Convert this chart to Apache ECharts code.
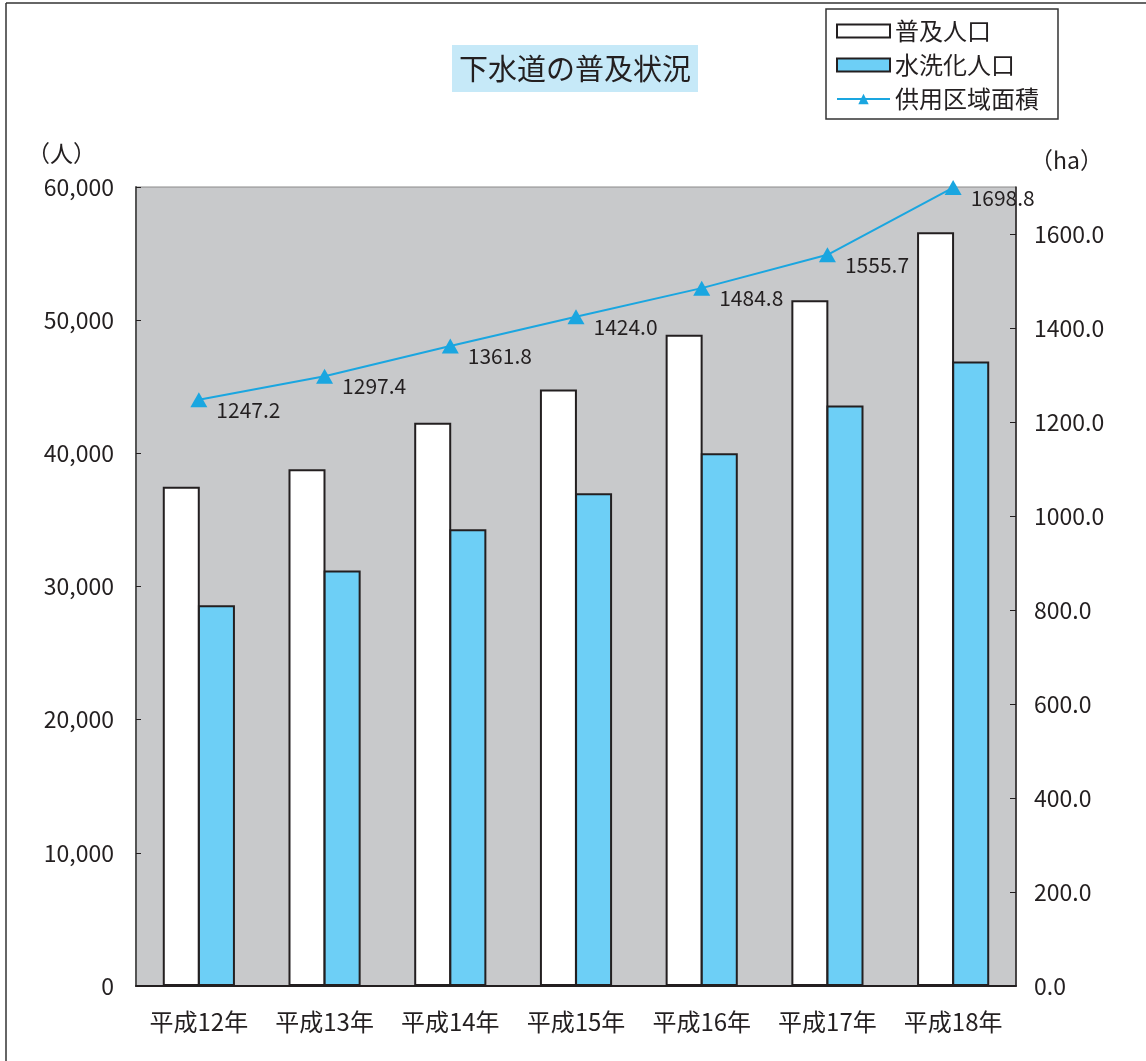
<!DOCTYPE html>
<html><head><meta charset="utf-8">
<script src="https://cdn.jsdelivr.net/npm/echarts@6/dist/echarts.min.js"></script>
<style>html,body{margin:0;padding:0;background:#fff}#c{width:1146px;height:1061px}</style>
</head><body><div id="c"></div>
<script>
const categories = ['平成12年','平成13年','平成14年','平成15年','平成16年','平成17年','平成18年'];
const fukyuJinko = [37500, 38800, 42300, 44800, 48900, 51500, 56600];
const suisenkaJinko = [28600, 31200, 34300, 37000, 40000, 43600, 46900];
const kyoyoMenseki = [1247.2, 1297.4, 1361.8, 1424.0, 1484.8, 1555.7, 1698.8];

const FONT = '"Noto Sans CJK JP", "Noto Sans", sans-serif';
const chart = echarts.init(document.getElementById('c'));
chart.setOption({
  animation: false,
  textStyle: {fontFamily: FONT},
  title: {
    text: '下水道の普及状況',
    left: 452, top: 45,
    backgroundColor: '#c6e9f8',
    padding: [7, 7, 7, 7],
    textStyle: {fontSize: 29, fontWeight: 'normal', color: '#231f20', fontFamily: FONT, lineHeight: 33}
  },
  legend: {
    left: 826, top: 9,
    orient: 'vertical',
    backgroundColor: '#fff',
    borderColor: '#333', borderWidth: 1.5,
    padding: [8, 19, 6, 10],
    itemGap: 6,
    itemWidth: 53, itemHeight: 13,
    textStyle: {fontSize: 24, color: '#231f20', fontFamily: FONT, lineHeight: 28},
    data: [
      {name: '普及人口', icon: 'rect'},
      {name: '水洗化人口', icon: 'rect'},
      {name: '供用区域面積'}
    ]
  },
  grid: {left: 136, right: 130, top: 187, bottom: 75, show: true, backgroundColor: '#c8c9cb', borderColor: '#8a8a8a', borderWidth: 1},
  xAxis: {
    type: 'category', data: categories,
    axisLine: {lineStyle: {color: '#231f20', width: 2}},
    axisTick: {inside: true, length: 6, lineStyle: {color: '#231f20'}},
    axisLabel: {fontSize: 24, color: '#231f20', margin: 24, interval: 0, hideOverlap: false, fontFamily: FONT}
  },
  yAxis: [
    {
      type: 'value', min: 0, max: 60000, interval: 10000,
      name: '（人）', nameLocation: 'end', nameGap: 22,
      nameTextStyle: {fontSize: 23, color: '#231f20', align: 'right', padding: [0, 40, 0, 0], fontFamily: FONT},
      axisLine: {show: true, lineStyle: {color: '#555', width: 2}},
      axisTick: {show: true, inside: true, length: 5, lineStyle: {color: '#231f20'}},
      splitLine: {show: false},
      axisLabel: {fontSize: 23, color: '#231f20', margin: 22, fontFamily: FONT,
        formatter: v => v.toLocaleString('en-US')}
    },
    {
      type: 'value', min: 0, max: 1700, interval: 200,
      name: '（ha）', nameLocation: 'end', nameGap: 15,
      nameTextStyle: {fontSize: 23, color: '#231f20', align: 'left', padding: [0, 0, 0, 14], fontFamily: FONT},
      axisLine: {show: true, lineStyle: {color: '#231f20', width: 1.5}},
      axisTick: {show: true, inside: true, length: 6, lineStyle: {color: '#231f20'}},
      splitLine: {show: false},
      axisLabel: {fontSize: 23, color: '#231f20', margin: 18, showMaxLabel: false, fontFamily: FONT,
        formatter: v => v.toFixed(1)}
    }
  ],
  series: [
    {
      name: '普及人口', type: 'bar', data: fukyuJinko, barWidth: 37, barGap: '-5%',
      itemStyle: {color: '#ffffff', borderColor: '#231f20', borderWidth: 2}
    },
    {
      name: '水洗化人口', type: 'bar', data: suisenkaJinko, barWidth: 37, barGap: '-5%',
      itemStyle: {color: '#6dcff6', borderColor: '#231f20', borderWidth: 2}
    },
    {
      name: '供用区域面積', type: 'line', yAxisIndex: 1, data: kyoyoMenseki,
      symbol: 'triangle', symbolSize: [17, 15],
      lineStyle: {color: '#1aa6e0', width: 2},
      itemStyle: {color: '#1aa6e0'},
      label: {show: true, position: 'right', offset: [4, 10], fontSize: 21, color: '#231f20', fontFamily: FONT,
        formatter: p => p.value.toFixed(1)}
    }
  ],
  graphic: [
    {type: 'line', shape: {x1: 6, y1: 3, x2: 6, y2: 1061}, style: {stroke: '#333', lineWidth: 1.5}},
    {type: 'line', shape: {x1: 6, y1: 3, x2: 1146, y2: 3}, style: {stroke: '#333', lineWidth: 1.5}}
  ]
});
</script></body></html>
